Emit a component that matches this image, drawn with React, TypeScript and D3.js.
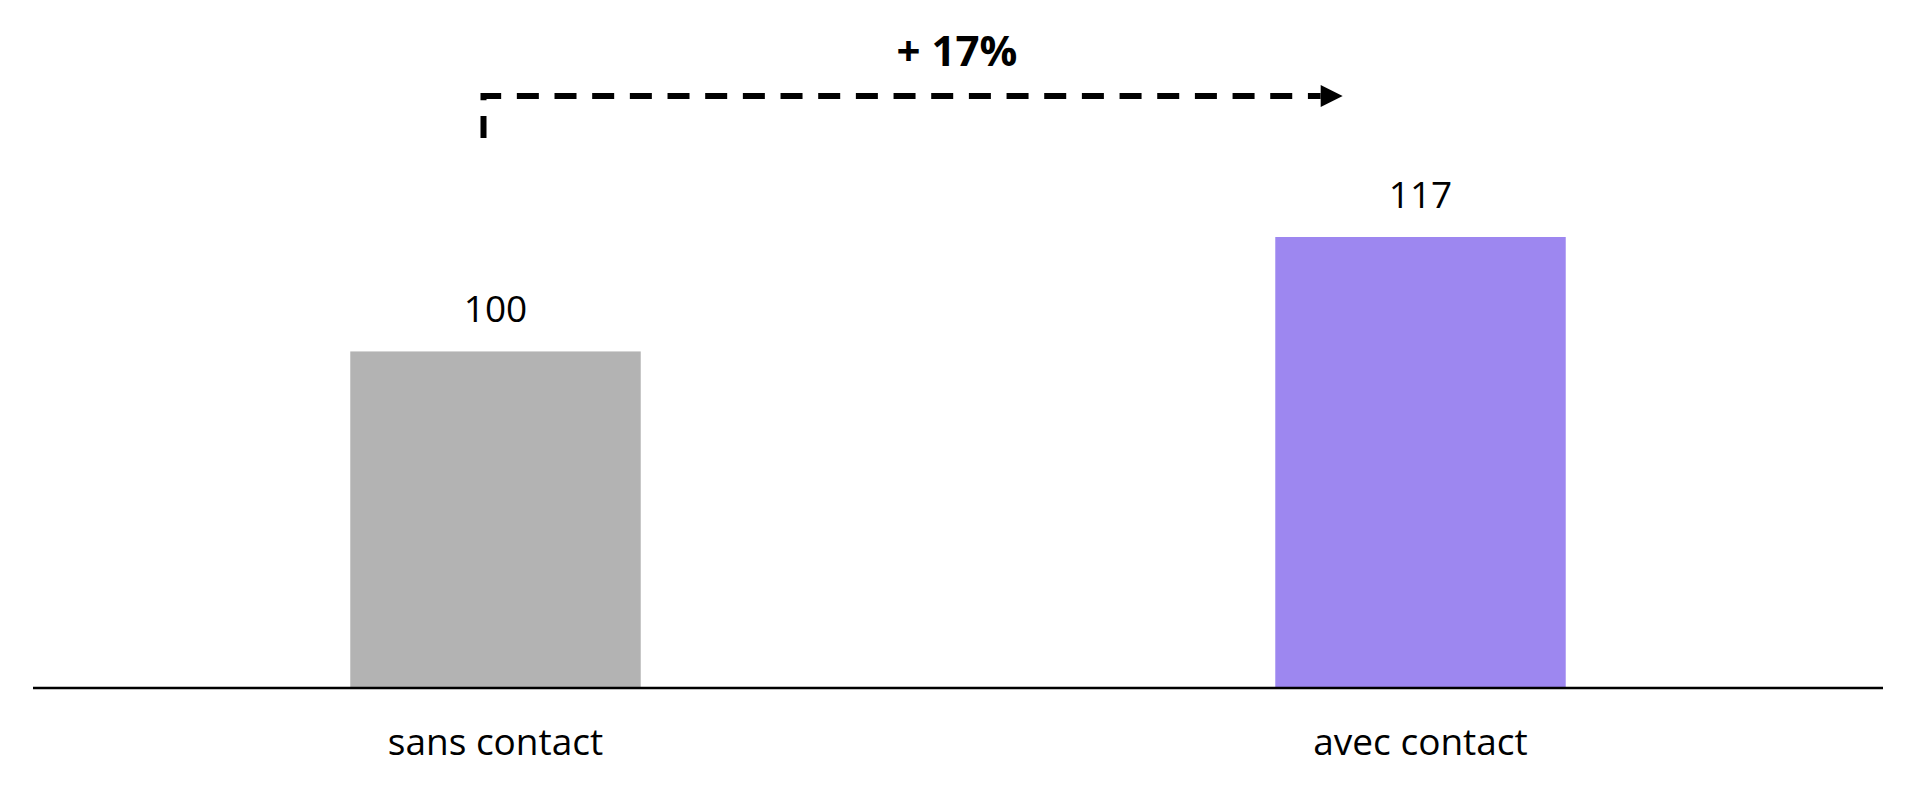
import React, { useEffect, useRef } from 'react';
import * as d3 from 'd3';

// Chart data
const categories = ['sans contact', 'avec contact'];
const values = [100, 117];
const barColors = ['#b3b3b3', '#9d87f0'];
const changeLabel = '+ 17%';

const App: React.FC = () => {
  const svgRef = useRef<SVGSVGElement>(null);

  useEffect(() => {
    if (!svgRef.current) return;

    const svg = d3.select(svgRef.current);
    svg.selectAll('*').remove();

    const width = 1920;
    const height = 794;
    const axisLeft = 33;
    const axisRight = 1883;
    const baseline = 688;
    const font = '"Open Sans", "Noto Sans", sans-serif';

    svg.attr('width', width).attr('height', height);

    // Scales
    const xScale = d3
      .scaleBand<string>()
      .domain(categories)
      .range([axisLeft, axisRight])
      .paddingInner(0.686)
      .paddingOuter(0.343);

    // value axis does not start at zero in the original
    const yScale = d3.scaleLinear().domain([50, 117]).range([baseline, 237]);

    const data = categories.map((c, i) => ({ category: c, value: values[i], color: barColors[i] }));

    // Bars
    svg
      .selectAll('.bar')
      .data(data)
      .enter()
      .append('rect')
      .attr('class', 'bar')
      .attr('x', (d) => xScale(d.category) as number)
      .attr('y', (d) => yScale(d.value))
      .attr('width', xScale.bandwidth())
      .attr('height', (d) => baseline - yScale(d.value))
      .attr('fill', (d) => d.color);

    // Baseline
    svg
      .append('line')
      .attr('x1', axisLeft)
      .attr('x2', axisRight)
      .attr('y1', baseline)
      .attr('y2', baseline)
      .attr('stroke', '#000')
      .attr('stroke-width', 2.5);

    // Value labels
    svg
      .selectAll('.value-label')
      .data(data)
      .enter()
      .append('text')
      .attr('class', 'value-label')
      .attr('x', (d) => (xScale(d.category) as number) + xScale.bandwidth() / 2)
      .attr('y', (d) => yScale(d.value) - 29)
      .attr('text-anchor', 'middle')
      .style('font-family', font)
      .style('font-size', '37px')
      .style('fill', '#000')
      .text((d) => d.value);

    // Category labels
    svg
      .selectAll('.cat-label')
      .data(data)
      .enter()
      .append('text')
      .attr('class', 'cat-label')
      .attr('x', (d) => (xScale(d.category) as number) + xScale.bandwidth() / 2)
      .attr('y', baseline + 67)
      .attr('text-anchor', 'middle')
      .style('font-family', font)
      .style('font-size', '37px')
      .style('fill', '#000')
      .text((d) => d.category);

    // Change annotation: dashed elbow arrow
    const startX = (xScale(categories[0]) as number) + xScale.bandwidth() / 2 - 12;
    const tipX = (xScale(categories[1]) as number) + xScale.bandwidth() * 0.232;
    const arrowY = 96;
    const headLen = 22;

    svg
      .append('path')
      .attr('d', `M${startX},138 V${arrowY} H${tipX - headLen}`)
      .attr('fill', 'none')
      .attr('stroke', '#000')
      .attr('stroke-width', 6)
      .attr('stroke-dasharray', '22,15.67');

    svg
      .append('path')
      .attr(
        'd',
        `M${tipX - headLen},${arrowY - 11} L${tipX},${arrowY} L${tipX - headLen},${arrowY + 11} Z`
      )
      .attr('fill', '#000');

    svg
      .append('text')
      .attr('x', 957)
      .attr('y', 66)
      .attr('text-anchor', 'middle')
      .style('font-family', font)
      .style('font-size', '42px')
      .style('font-weight', 'bold')
      .style('fill', '#000')
      .text(changeLabel);
  }, []);

  return (
    <div style={{ position: 'absolute', left: 0, top: 0, background: '#fff' }}>
      <svg ref={svgRef} style={{ display: 'block' }} />
    </div>
  );
};

export default App;
